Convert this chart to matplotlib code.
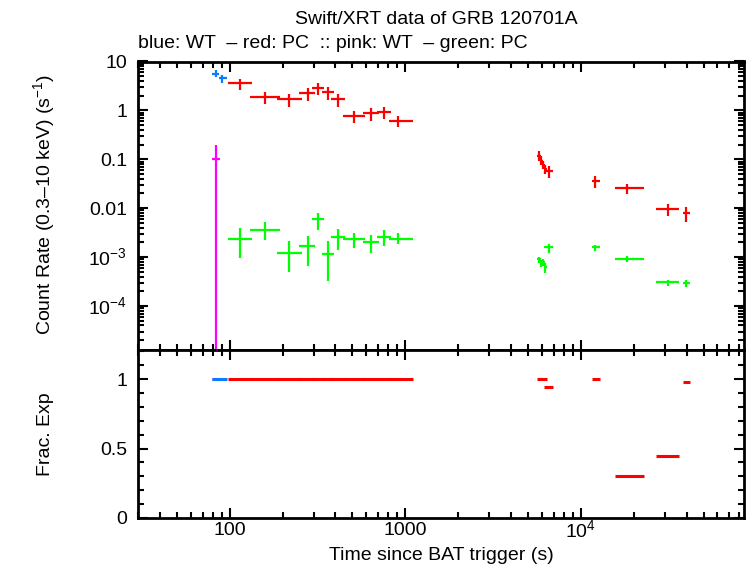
import matplotlib
matplotlib.use("Agg")
import matplotlib.pyplot as plt
from matplotlib.ticker import FixedLocator, NullFormatter, LogLocator, MultipleLocator
from matplotlib.transforms import ScaledTranslation
import numpy as np

plt.rcParams['font.family'] = ['Liberation Sans', 'DejaVu Sans']
plt.rcParams['mathtext.fontset'] = 'custom'
plt.rcParams['mathtext.rm'] = 'Liberation Sans'

# ---- data ----
# blue: WT
wt_t = [83.7, 90.2]
wt_tlo = [79.7, 87.3]
wt_thi = [87.3, 96.3]
wt_r = [5.6, 4.6]
wt_rlo = [4.9, 3.7]
wt_rhi = [6.7, 5.4]
wt_frac = [1.0, 1.0]

# pink: WT (hard band)
pk_t = [83.7]
pk_tlo = [79.7]
pk_thi = [88.0]
pk_r = [0.1]
pk_rlo = [1e-7]
pk_rhi = [0.197]

# red: PC
pc_t = [113.6, 159, 218.8, 280.7, 318.5, 362, 414, 511, 641.6, 757, 914,
        5806, 5960, 6116, 6276, 6616, 12100, 18400, 31500, 39900]
pc_tlo = [98.3, 130.7, 186, 249.5, 294, 336, 377.6, 442.5, 576, 693, 805,
          5631, 5850, 6000, 6150, 6194, 11590, 15660, 26800, 38200]
pc_thi = [133.6, 193.6, 258, 306, 345, 393.6, 454, 593, 712, 826, 1112,
          5960, 6100, 6250, 6394, 6951, 12880, 22900, 36200, 41900]
pc_r = [3.61, 1.89, 1.70, 2.26, 2.85, 2.37, 1.70, 0.762, 0.877, 0.92, 0.61,
        0.119, 0.094, 0.077, 0.0637, 0.058, 0.0356, 0.0256, 0.00953, 0.008]
pc_rhi = [4.43, 2.40, 2.18, 2.9, 3.66, 3.03, 2.18, 0.98, 1.13, 1.18, 0.775,
          0.149, 0.115, 0.094, 0.078, 0.0735, 0.0458, 0.0314, 0.01225, 0.0106]
pc_rlo = [2.63, 1.36, 1.2, 1.57, 2.11, 1.67, 1.2, 0.565, 0.62, 0.67, 0.46,
          0.094, 0.075, 0.062, 0.051, 0.0423, 0.0264, 0.0196, 0.00695, 0.00525]
pc_frac = [1, 1, 1, 1, 1, 1, 1, 1, 1, 1, 1,
           1, 1, 1, 1, 0.94, 1, 0.3, 0.45, 0.98]

# green: PC (hard band)
gr_t = pc_t
gr_tlo = pc_tlo
gr_thi = pc_thi
gr_r = [2.38e-3, 3.64e-3, 1.23e-3, 1.66e-3, 5.9e-3, 1.17e-3, 2.57e-3, 2.3e-3, 2.0e-3, 2.53e-3, 2.38e-3,
        9.0e-4, 7.5e-4, 7.8e-4, 6.2e-4, 1.59e-3, 1.59e-3, 9.2e-4, 3.05e-4, 2.9e-4]
gr_rhi = [4.0e-3, 5.13e-3, 2.1e-3, 2.69e-3, 8.1e-3, 2.1e-3, 3.69e-3, 3.16e-3, 2.78e-3, 3.5e-3, 3.1e-3,
          1.02e-3, 8.8e-4, 9.0e-4, 7.5e-4, 1.82e-3, 1.74e-3, 1.03e-3, 3.4e-4, 3.4e-4]
gr_rlo = [9.5e-4, 2.2e-3, 4.9e-4, 6.46e-4, 3.64e-3, 3.2e-4, 1.37e-3, 1.53e-3, 1.21e-3, 1.68e-3, 1.82e-3,
          7.5e-4, 6.2e-4, 6.5e-4, 4.8e-4, 1.2e-3, 1.33e-3, 7.8e-4, 2.57e-4, 2.5e-4]

BLUE = '#0a7cff'
RED = '#ff0000'
GREEN = '#00ff00'
PINK = '#ff00ff'


def errs(c, lo, hi):
    c = np.asarray(c, float)
    return [c - np.asarray(lo, float), np.asarray(hi, float) - c]


fig = plt.figure(figsize=(7.46, 5.68), dpi=100)
L, R = 138 / 746, 744 / 746
top_y, mid_y, bot_y = 1 - 61.5 / 568, 1 - 350 / 568, 1 - 518 / 568
ax1 = fig.add_axes([L, mid_y, R - L, top_y - mid_y])
ax2 = fig.add_axes([L, bot_y, R - L, mid_y - bot_y], sharex=ax1)

lw = 1.6
for t, tlo, thi, r, rlo, rhi, col in [
    (gr_t, gr_tlo, gr_thi, gr_r, gr_rlo, gr_rhi, GREEN),
    (pc_t, pc_tlo, pc_thi, pc_r, pc_rlo, pc_rhi, RED),
    (pk_t, pk_tlo, pk_thi, pk_r, pk_rlo, pk_rhi, PINK),
    (wt_t, wt_tlo, wt_thi, wt_r, wt_rlo, wt_rhi, BLUE),
]:
    ax1.errorbar(t, r, xerr=errs(t, tlo, thi), yerr=errs(r, rlo, rhi),
                 fmt='none', ecolor=col, elinewidth=lw, capsize=0)

ax2.errorbar(pk_t, [1.0], xerr=errs(pk_t, pk_tlo, pk_thi), fmt='none',
             ecolor=PINK, elinewidth=2.2, capsize=0)
ax2.errorbar(pc_t, pc_frac, xerr=errs(pc_t, pc_tlo, pc_thi), fmt='none',
             ecolor=RED, elinewidth=2.2, capsize=0)
ax2.errorbar(wt_t, wt_frac, xerr=errs(wt_t, wt_tlo, wt_thi), fmt='none',
             ecolor=BLUE, elinewidth=2.2, capsize=0)

ax1.set_xscale('log')
ax1.set_yscale('log')
ax1.set_xlim(30, 85000)
ax1.set_ylim(1.26e-5, 10)
ax2.set_ylim(0, 1.21)

fs = 14
ytk = [1e-4, 1e-3, 1e-2, 0.1, 1, 10]
ytl = [r'$10^{-4}$', r'$10^{-3}$', '0.01', '0.1', '1', '10']
ax1.yaxis.set_major_locator(FixedLocator(ytk))
ax1.set_yticklabels(ytl)
ax1.yaxis.set_minor_locator(LogLocator(base=10, subs=np.arange(2, 10), numticks=20))
ax1.yaxis.set_minor_formatter(NullFormatter())

xtk = [100, 1000, 10000]
xtl = ['100', '1000', r'$10^{4}$']
ax2.xaxis.set_major_locator(FixedLocator(xtk))
ax2.set_xticklabels(xtl)
ax2.xaxis.set_minor_locator(LogLocator(base=10, subs=np.arange(2, 10), numticks=20))
ax2.xaxis.set_minor_formatter(NullFormatter())
ax2.yaxis.set_major_locator(FixedLocator([0, 0.5, 1]))
ax2.set_yticklabels(['0', '0.5', '1'])
ax2.yaxis.set_minor_locator(MultipleLocator(0.1))

for ax in (ax1, ax2):
    for s in ax.spines.values():
        s.set_linewidth(2.0)
    ax.tick_params(which='both', direction='in', top=True, right=True,
                   width=1.5, labelsize=fs)
    ax.tick_params(axis='y', pad=8)
    ax.tick_params(axis='x', pad=3)
    ax.tick_params(which='major', length=7)
    ax.tick_params(which='minor', length=4)
plt.setp(ax1.get_xticklabels(), visible=False)

# lift the superscripted 10^4 label slightly so it lines up with the others
lab = ax2.get_xticklabels()[2]
lab.set_transform(lab.get_transform() + ScaledTranslation(0, 2 / 72, fig.dpi_scale_trans))

fig.text(45 / 746, 1 - 205 / 568, r'Count Rate (0.3–10 keV) (s$^{-1}$)',
         rotation=90, ha='center', va='center', fontsize=fs)
fig.text(45 / 746, 1 - 434 / 568, 'Frac. Exp',
         rotation=90, ha='center', va='center', fontsize=fs)
fig.text((L + R) / 2, 1 - 556 / 568, 'Time since BAT trigger (s)',
         ha='center', va='center', fontsize=fs)

fig.text(436 / 746, 1 - 19 / 568, 'Swift/XRT data of GRB 120701A',
         ha='center', va='center', fontsize=fs)
fig.text(L, 1 - 43.5 / 568, 'blue: WT  – red: PC  :: pink: WT  – green: PC',
         ha='left', va='center', fontsize=fs)

fig.savefig('out.png', dpi=100)
